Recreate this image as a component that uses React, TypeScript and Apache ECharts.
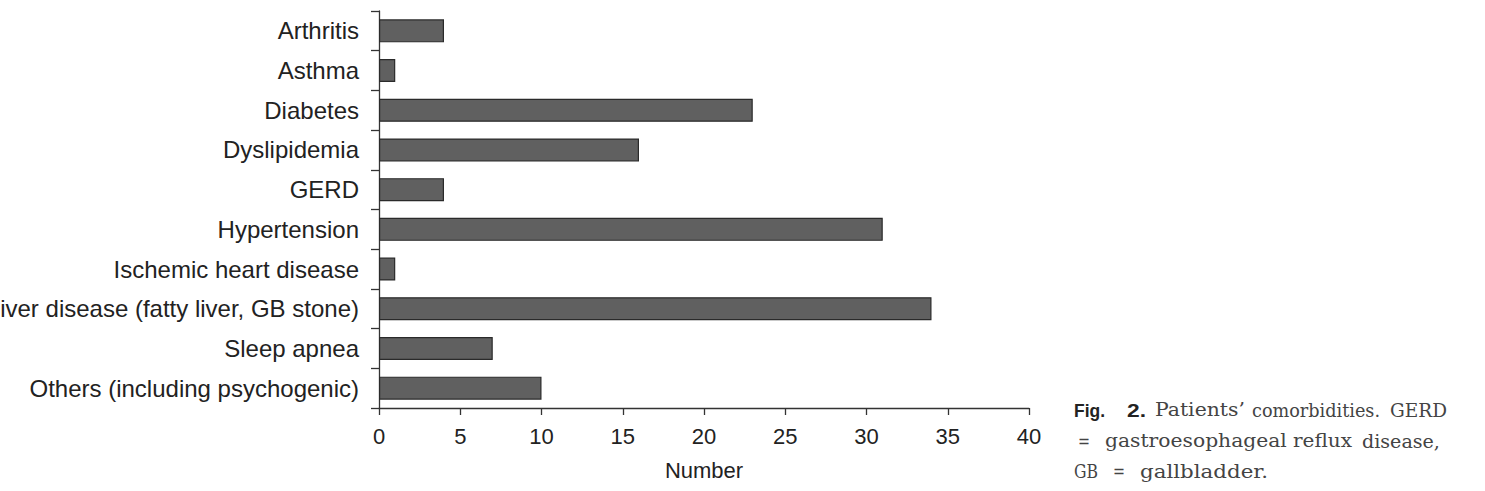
import React, { useEffect, useRef } from "react";
import * as echarts from "echarts";

const categories = [
  "Arthritis",
  "Asthma",
  "Diabetes",
  "Dyslipidemia",
  "GERD",
  "Hypertension",
  "Ischemic heart disease",
  "Liver disease (fatty liver, GB stone)",
  "Sleep apnea",
  "Others (including psychogenic)",
];
const counts = [4, 1, 23, 16, 4, 31, 1, 34, 7, 10];
const xTickMin = 0;
const xTickMax = 40;
const xTickStep = 5;
const axisTitle = "Number";
// caption words: [text, bold?, line]
const captionWords: [string, boolean, number][] = [
  ["Fig.", true, 0],
  ["2.", true, 0],
  ["Patients\u2019", false, 0],
  ["comorbidities.", false, 0],
  ["GERD", false, 0],
  ["=", false, 1],
  ["gastroesophageal", false, 1],
  ["reflux", false, 1],
  ["disease,", false, 1],
  ["GB", false, 2],
  ["=", false, 2],
  ["gallbladder.", false, 2],
];
const captionWordLeft = [1074, 1127, 1155, 1252, 1390, 1078, 1105, 1293, 1362, 1074, 1113, 1140];
const captionWordRight = [1105, 1146, 1245, 1380, 1447, 1090, 1287, 1352, 1440, 1098, 1125, 1268];
const captionLineY = [410, 441, 471];

export default function App() {
  const ref = useRef<HTMLDivElement>(null);
  useEffect(() => {
    if (!ref.current) return;
    const chart = echarts.init(ref.current, null, { renderer: "svg" });
    const sans = "'Liberation Sans', Arial, sans-serif";
    const serif = "'DejaVu Serif', 'Liberation Serif', serif";
    const boldFont = "bold 19px " + sans;
    const serifFont = "19px " + serif;
    const ctx = document.createElement("canvas").getContext("2d");
    const measure = (t: string, f: string) => {
      if (!ctx) return 0;
      ctx.font = f;
      return ctx.measureText(t).width;
    };
    chart.setOption({
      animation: false,
      backgroundColor: "#ffffff",
      grid: {
        left: 379,
        right: 456,
        top: 11,
        bottom: 83,
        containLabel: false,
        outerBoundsMode: "none",
      },
      xAxis: {
        type: "value",
        min: xTickMin,
        max: xTickMax,
        interval: xTickStep,
        name: axisTitle,
        nameLocation: "middle",
        nameGap: 51,
        nameTextStyle: { fontFamily: sans, fontSize: 22, color: "#222" },
        axisLine: { show: true, lineStyle: { color: "#333", width: 1.3 } },
        axisTick: { show: true, length: 7, lineStyle: { color: "#333", width: 1.3 } },
        axisLabel: { fontFamily: sans, fontSize: 22, color: "#222", margin: 17 },
        splitLine: { show: false },
      },
      yAxis: {
        type: "category",
        data: categories,
        inverse: true,
        axisLine: { show: true, lineStyle: { color: "#333", width: 1.3 } },
        axisTick: { show: true, length: 8, interval: 0, lineStyle: { color: "#333", width: 1.3 } },
        axisLabel: { fontFamily: sans, fontSize: 24, color: "#222", margin: 20, interval: 0 },
        splitLine: { show: false },
      },
      series: [
        {
          type: "bar",
          data: counts,
          barWidth: "58%",
          itemStyle: { color: "#606060", borderColor: "#2a2a2a", borderWidth: 1.2 },
        },
      ],
      graphic: captionWords.map(([w, bold, line], i) => {
        const font = bold ? boldFont : serifFont;
        const m = measure(w, font);
        const target = captionWordRight[i] - captionWordLeft[i];
        const sx = m > 0 ? target / m : 1;
        return {
          type: "text",
          x: captionWordLeft[i],
          y: captionLineY[line],
          scaleX: sx,
          style: {
            text: w,
            fill: bold ? "#222" : "#444",
            font,
            verticalAlign: "middle",
            align: "left",
          },
        };
      }),
    });
    return () => chart.dispose();
  }, []);
  return (
    <div
      ref={ref}
      style={{ position: "fixed", left: 0, top: 0, width: 1485, height: 491 }}
    />
  );
}
